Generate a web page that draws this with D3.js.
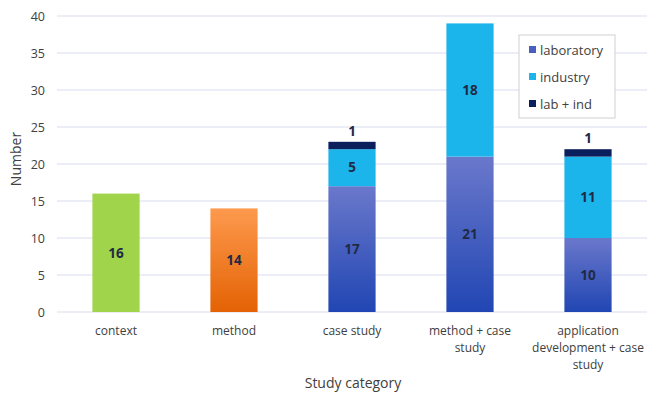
<!DOCTYPE html>
<html>
<head>
<meta charset="utf-8">
<script src="https://cdn.jsdelivr.net/npm/d3@7"></script>
<style>
  html, body { margin: 0; padding: 0; background: #fff; }
  svg { display: block; font-family: "Open Sans", "Noto Sans", sans-serif; }
</style>
</head>
<body>
<svg id="chart" width="648" height="399"></svg>
<script>
// Study categories along the x axis (each label split into lines)
const categories = ["context", "method", "case study", "method + case study", "application development + case study"];
const categoryLines = [["context"], ["method"], ["case study"], ["method + case", "study"], ["application", "development + case", "study"]];

// Counts per category
const contextValues = [16, 0, 0, 0, 0];
const methodValues = [0, 14, 0, 0, 0];
const laboratoryValues = [0, 0, 17, 21, 10];
const industryValues = [0, 0, 5, 18, 11];
const labIndValues = [0, 0, 1, 0, 1];

const yTicks = [0, 5, 10, 15, 20, 25, 30, 35, 40];
const legendLabels = ["laboratory", "industry", "lab + ind"];

const svg = d3.select("#chart");
const defs = svg.append("defs");

function vGrad(id, top, bottom) {
  const g = defs.append("linearGradient").attr("id", id)
    .attr("x1", 0).attr("y1", 0).attr("x2", 0).attr("y2", 1);
  g.append("stop").attr("offset", "0%").attr("stop-color", top);
  g.append("stop").attr("offset", "100%").attr("stop-color", bottom);
}
vGrad("gOrange", "#fd9a4e", "#e46204");
vGrad("gBlue", "#6a78cb", "#2146b3");

const x = d3.scaleBand().domain(categories).range([57, 647]).paddingInner(0.6).paddingOuter(0.3);
const y = d3.scaleLinear().domain([0, 40]).range([312, 16]);

// Gridlines
svg.append("g").selectAll("line").data(yTicks).join("line")
  .attr("x1", 57).attr("x2", 647)
  .attr("y1", d => y(d)).attr("y2", d => y(d))
  .attr("stroke", "#d9dcef").attr("stroke-width", 1);

// Y axis labels
const yAxis = svg.append("g").attr("transform", "translate(45,0)")
  .call(d3.axisLeft(y).tickValues(yTicks).tickSize(0).tickPadding(0));
yAxis.select(".domain").remove();
yAxis.selectAll("text").attr("font-size", 12.5).attr("fill", "#404040")
  .attr("font-family", "'Open Sans', sans-serif");

// Stacked segments
const layers = [
  { key: "context", values: contextValues, fill: "#a0d44a" },
  { key: "method", values: methodValues, fill: "url(#gOrange)" },
  { key: "laboratory", values: laboratoryValues, fill: "url(#gBlue)" },
  { key: "industry", values: industryValues, fill: "#1bb5ec" },
  { key: "labInd", values: labIndValues, fill: "#0b1f5c", above: true }
];

const base = categories.map(() => 0);
const segs = [];
layers.forEach(layer => {
  layer.values.forEach((v, i) => {
    if (v > 0) {
      segs.push({ cat: categories[i], y0: base[i], y1: base[i] + v, v, layer });
      base[i] += v;
    }
  });
});

const bw = x.bandwidth();
svg.append("g").selectAll("rect").data(segs).join("rect")
  .attr("x", d => x(d.cat))
  .attr("width", bw)
  .attr("y", d => y(d.y1))
  .attr("height", d => y(d.y0) - y(d.y1))
  .attr("fill", d => d.layer.fill);

// Value labels
svg.append("g").selectAll("text").data(segs).join("text")
  .attr("x", d => x(d.cat) + bw / 2)
  .attr("y", d => d.layer.above ? y(d.y1) - 6 : (y(d.y0) + y(d.y1)) / 2)
  .attr("dy", d => d.layer.above ? 0 : "0.35em")
  .attr("text-anchor", "middle")
  .attr("font-size", 13.5).attr("font-weight", "bold")
  .attr("fill", "#1f2a44")
  .text(d => d.v);

// Category labels
const xl = svg.append("g");
categories.forEach((c, i) => {
  const t = xl.append("text")
    .attr("x", x(c) + bw / 2).attr("y", 335)
    .attr("text-anchor", "middle").attr("font-size", 12).attr("fill", "#404040");
  categoryLines[i].forEach((line, j) => {
    t.append("tspan").attr("x", x(c) + bw / 2).attr("dy", j === 0 ? 0 : 17).text(line);
  });
});

// Axis titles
svg.append("text").attr("x", 353).attr("y", 388).attr("text-anchor", "middle")
  .attr("font-size", 14).attr("fill", "#404040").text("Study category");
svg.append("text").attr("transform", "translate(21,159) rotate(-90)")
  .attr("text-anchor", "middle").attr("font-size", 14).attr("fill", "#404040").text("Number");

// Legend
const legend = svg.append("g").attr("transform", "translate(519,35)");
legend.append("rect").attr("width", 96).attr("height", 83)
  .attr("fill", "#fff").attr("stroke", "#d0d0d0");
const legendFills = ["#4a5ec0", "#1bb5ec", "#0b1f5c"];
legendLabels.forEach((l, i) => {
  const gy = 15 + i * 27;
  legend.append("rect").attr("x", 10).attr("y", gy - 4).attr("width", 7).attr("height", 7).attr("fill", legendFills[i]);
  legend.append("text").attr("x", 21).attr("y", gy).attr("dy", "0.35em")
    .attr("font-size", 13).attr("fill", "#404040").text(l);
});
</script>
</body>
</html>
